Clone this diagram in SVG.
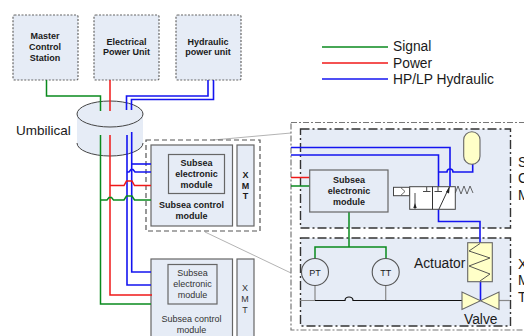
<svg xmlns="http://www.w3.org/2000/svg" width="524" height="336" viewBox="0 0 524 336">
<style>
text{font-family:"Liberation Sans",Arial,sans-serif;fill:#1a1a1a}
.b{font-weight:bold;font-size:9px;text-anchor:middle}
.r{font-size:9px;text-anchor:middle;fill:#333}
.l{font-size:13.800px}
.top{fill:#e6ecf6;stroke:#666;stroke-width:1.2;stroke-dasharray:2 1.5}
.box{fill:#e6ecf6;stroke:#666;stroke-width:1.2}
.w{fill:#fff;stroke:#444;stroke-width:1}
.g{fill:none;stroke:#0a8a1e;stroke-width:1.500}
.p{fill:none;stroke:#f01818;stroke-width:1.500}
.h{fill:none;stroke:#1414f0;stroke-width:1.600}
.k{fill:none;stroke:#111;stroke-width:1.200}
.gy{fill:none;stroke:#888;stroke-width:1.200}
.y{fill:#ffffc8;stroke:#666;stroke-width:1.100}
.dd{fill:none;stroke:#555;stroke-width:1.200;stroke-dasharray:5 3}
.dot{fill:none;stroke:#777;stroke-width:1.200;stroke-dasharray:6 2 2 2}
.dk{fill:#e6ecf6;stroke:#333;stroke-width:1.400;stroke-dasharray:9 3 2 3}
</style>

<g id="master-control-station"><rect class="top" x="13" y="15" width="65" height="65" rx="1.500"/>
<text class="b"><tspan x="45" y="39">Master</tspan><tspan x="45" y="50">Control</tspan><tspan x="45" y="61">Station</tspan></text></g>
<g id="electrical-power-unit"><rect class="top" x="94" y="15" width="65" height="65" rx="1.500"/>
<text class="b"><tspan x="126.500" y="45">Electrical</tspan><tspan x="126.500" y="55">Power Unit</tspan></text></g>
<g id="hydraulic-power-unit"><rect class="top" x="176" y="15" width="65" height="65" rx="1.500"/>
<text class="b"><tspan x="208" y="45">Hydraulic</tspan><tspan x="208" y="55">power unit</tspan></text></g>

<g id="legend">
<path class="g" d="M322 47H388"/><path class="p" d="M322 63H388"/><path class="h" d="M322 79H388"/>
<text class="l" x="393" y="51">Signal</text><text class="l" x="393" y="68">Power</text><text class="l" x="393" y="84">HP/LP Hydraulic</text>
</g>

<g id="umbilical">
<path d="M77 114V143A33 13 0 0 0 143 143V114Z" fill="#e6ecf6"/>
<path d="M77 143A33 13 0 0 0 143 143" fill="none" stroke="#444" stroke-width="1"/>
<ellipse cx="110" cy="114" rx="33" ry="13" fill="#e6ecf6" stroke="#444" stroke-width="1"/>
<text x="16" y="135" style="font-size:13.500px">Umbilical</text>
</g>

<g id="detail-leaders">
<path fill="none" stroke="#aaa" stroke-width="0.900" d="M213 140L291 133M205 232L291 273"/>
</g>

<g id="subsea-tree-1">
<rect class="dd" x="146" y="140" width="114" height="91"/>
<rect class="box" x="151" y="145" width="81.500" height="81"/>
<rect class="box" x="168.500" y="154.500" width="56" height="39"/>
<rect class="box" x="237" y="145" width="17" height="81"/>
<text class="b"><tspan x="196.500" y="166">Subsea</tspan><tspan x="196.500" y="177">electronic</tspan><tspan x="196.500" y="188">module</tspan></text>
<text class="b"><tspan x="191.500" y="208">Subsea control</tspan><tspan x="191.500" y="219">module</tspan></text>
<text class="b"><tspan x="245.500" y="178">X</tspan><tspan x="245.500" y="189">M</tspan><tspan x="245.500" y="199">T</tspan></text>
</g>

<g id="subsea-tree-2">
<rect class="box" x="151" y="259" width="81.500" height="90"/>
<rect class="box" x="168" y="264.500" width="49" height="39.500"/>
<rect class="box" x="237" y="259" width="17" height="90"/>
<text class="r"><tspan x="192.500" y="276">Subsea</tspan><tspan x="192.500" y="287">electronic</tspan><tspan x="192.500" y="298">module</tspan></text>
<text class="r"><tspan x="191.500" y="322">Subsea control</tspan><tspan x="191.500" y="333">module</tspan></text>
<text class="r"><tspan x="245" y="291">X</tspan><tspan x="245" y="302">M</tspan><tspan x="245" y="313">T</tspan></text>
</g>

<g id="detail-frame"><rect class="dot" x="291" y="122.500" width="240" height="207.500"/></g>
<g id="control-module-panel"><rect class="dk" x="300.500" y="129" width="210" height="99"/></g>
<g id="tree-panel"><rect class="dk" x="300.500" y="238" width="210" height="88"/></g>

<g id="connectors">
<path class="g" d="M46.500 80V96H100.500V111"/>
<path class="p" d="M110 80V111"/>
<path class="h" d="M208 80V96H126.500V110"/>
<path class="h" d="M213.500 80V99.500H131.500V110"/>
<path class="g" d="M100.500 135V304H151"/>
<path class="p" d="M110 135V295H152"/>
<path class="h" d="M127 135V285H151"/>
<path class="h" d="M131.700 132V272H151"/>
<path class="h" d="M131.700 164H151"/>
<path class="h" d="M127 172H129L131 169.500H133L135 172H151"/>
<path class="p" d="M110 185.500H124L126.500 181H132L134.500 185.500H151"/>
<path class="g" d="M100.500 200H107L109 197.500H111.500L113.500 200H124L126.500 196H132L134.500 200H151"/>
<path class="h" d="M291 147.500H450V187"/>
<path class="h" d="M291 155H438.500V187"/>
<path class="h" d="M438.500 172H447A3 3 0 0 1 453 172H472.700V164"/>
<path class="p" d="M291 177.500H310"/>
<path class="g" d="M291 186H310"/>
<path class="g" d="M349 212V247M315 259V247H386V259"/>
<path class="h" d="M438.500 209V221.500H480V243"/>
<path class="h" d="M480.500 281.700V300"/>
<path class="gy" d="M300 300.500H315V285.500M385.700 285.500V300.500"/>
<path class="k" d="M315 300.500H345A4 3.500 0 0 1 353 300.500H462"/>
<path class="gy" d="M499 300.500H510"/>
</g>

<g id="accumulator"><rect class="y" x="463.700" y="131.700" width="16.300" height="32.600" rx="8.100"/></g>

<g id="subsea-electronic-module"><rect class="box" x="309.700" y="170" width="78.300" height="42"/>
<text class="b"><tspan x="349" y="183">Subsea</tspan><tspan x="349" y="194">electronic</tspan><tspan x="349" y="205">module</tspan></text></g>

<g id="control-valve">
<rect class="w" x="393.500" y="187.300" width="16" height="8.400"/>
<path d="M401 187.800L405 191.500L401 195.200" fill="none" stroke="#444" stroke-width="0.800"/>
<rect class="w" x="409.700" y="186.700" width="45.600" height="22.600"/>
<path d="M432.500 186.700V209.300" stroke="#333" stroke-width="1" fill="none"/>
<path d="M415 193V209M426.700 187V191M423 191.500H430.500M438 187V191M434.500 191.500H442" stroke="#333" stroke-width="0.900" fill="none"/>
<path d="M415 203L413.300 208H416.700Z" fill="#222"/>
<path d="M439 209L449.300 187" stroke="#333" stroke-width="1" fill="none"/>
<path d="M449.800 186.500L446 192L449 193.500Z" fill="#222"/>
<path d="M455.300 193L458 186L461 194L464 186L467 194L470 186L473 193" fill="none" stroke="#444" stroke-width="0.800"/>
</g>

<g id="pt"><circle cx="315" cy="272" r="13.500" fill="#e6ecf6" stroke="#555" stroke-width="1.100"/>
<text x="315" y="275.500" style="font-size:9px;text-anchor:middle">PT</text></g>
<g id="tt"><circle cx="385.700" cy="272" r="13.500" fill="#e6ecf6" stroke="#555" stroke-width="1.100"/>
<text x="385.700" y="275.500" style="font-size:9px;text-anchor:middle">TT</text></g>

<g id="actuator"><rect class="y" x="467.700" y="242.700" width="24.600" height="39"/>
<path d="M480 243.500L469 251L490 258L469 266L490 274L480 281" fill="none" stroke="#444" stroke-width="0.900"/>
<text class="l" x="414" y="268">Actuator</text></g>

<g id="valve"><path class="y" d="M462 292V309.500L499 292V309.500Z"/>
<text class="l" x="464" y="324">Valve</text></g>

<g id="clipped-labels">
<text class="l" x="518" y="167">S</text><text class="l" x="518" y="183">C</text><text class="l" x="518" y="200">M</text>
<text class="l" x="518" y="269">X</text><text class="l" x="518" y="285">M</text><text class="l" x="518" y="302">T</text>
</g>
</svg>
